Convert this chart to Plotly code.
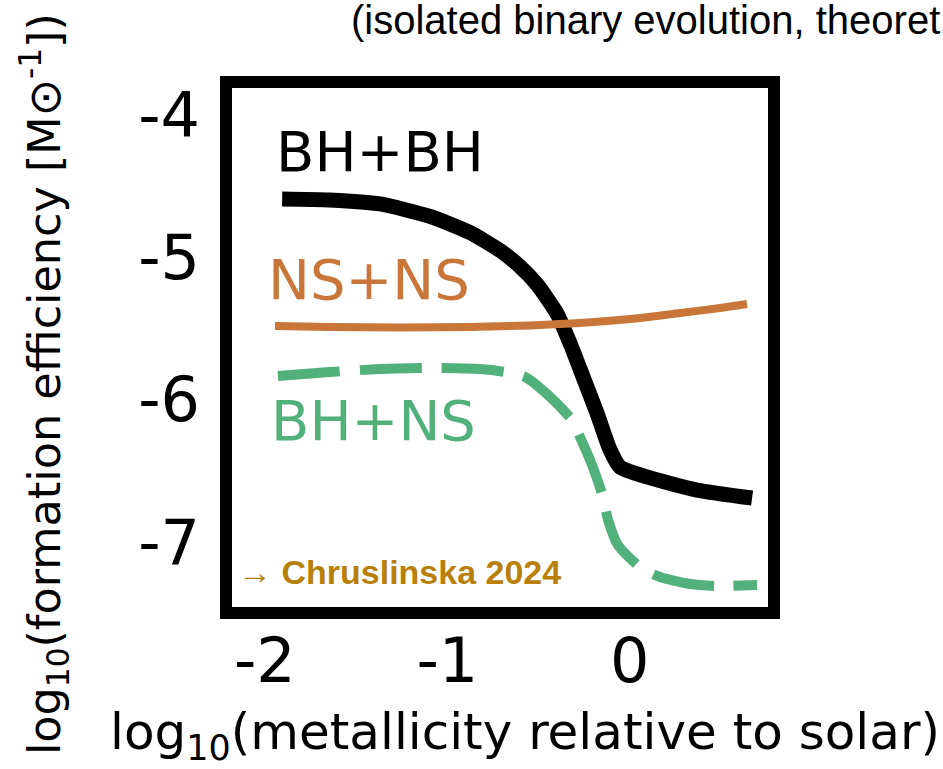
import plotly.graph_objects as go

# ---- data ----
x_tick_vals = [-2, -1, 0]
x_tick_text = ["-2", "-1", "0"]
y_tick_vals = [-4, -5, -6, -7]
y_tick_text = ["-4", "-5", "-6", "-7"]

bhbh_x = [-1.905, -1.643, -1.369, -1.095, -0.876, -0.712, -0.602, -0.508, -0.399,
          -0.328, -0.256, -0.180, -0.108, -0.054, 0.094, 0.368, 0.670]
bhbh_y = [-4.589, -4.596, -4.624, -4.712, -4.825, -4.951, -5.064, -5.191, -5.395,
          -5.602, -5.841, -6.094, -6.354, -6.474, -6.544, -6.636, -6.692]

nsns_x = [-1.944, -1.643, -1.259, -0.875, -0.547, -0.273, 0.001, 0.275, 0.494, 0.642]
nsns_y = [-5.482, -5.489, -5.493, -5.489, -5.479, -5.461, -5.433, -5.391, -5.356, -5.328]

bhns_x = [-1.928, -1.643, -1.369, -1.095, -0.821, -0.684, -0.574, -0.448, -0.317, -0.273,
          -0.207, -0.147, -0.119, -0.065, 0.056, 0.165, 0.330, 0.478, 0.697]
bhns_y = [-5.834, -5.806, -5.785, -5.778, -5.785, -5.806, -5.841, -5.968, -6.143, -6.263,
          -6.460, -6.685, -6.847, -7.023, -7.178, -7.248, -7.297, -7.311, -7.304]

series_names = ["BH+BH", "NS+NS", "BH+NS"]
title_text = "(isolated binary evolution, theoret"
x_title = "log<sub>10</sub>(metallicity relative to solar)"
y_title = "log<sub>10</sub>(formation efficiency [M⊙<sup>-1</sup>])"
ref_text = "→ <b>Chruslinska 2024</b>"

# ---- styles ----
BLACK = "#000000"
ORANGE = "#c8763a"
GREEN = "#52b07a"
GOLD = "#b97f0b"
FONT = "DejaVu Sans"

fig = go.Figure()
fig.add_trace(go.Scatter(x=bhbh_x, y=bhbh_y, mode="lines", name=series_names[0],
                         line=dict(color=BLACK, width=15, shape="spline", smoothing=0.6)))
fig.add_trace(go.Scatter(x=bhns_x, y=bhns_y, mode="lines", name=series_names[2],
                         line=dict(color=GREEN, width=10, dash="62px,20px",
                                   shape="spline", smoothing=0.6)))
fig.add_trace(go.Scatter(x=nsns_x, y=nsns_y, mode="lines", name=series_names[1],
                         line=dict(color=ORANGE, width=8, shape="spline", smoothing=0.6)))

L, R, T, B = 226, 169, 82, 156
W, H = 943, 769
pw, ph = W - L - R, H - T - B

def px(xp):
    return (xp - L) / pw

def py(yp):
    return (H - B - yp) / ph

fig.update_layout(
    width=W, height=H,
    margin=dict(l=L, r=R, t=T, b=B, pad=0),
    paper_bgcolor="white", plot_bgcolor="white",
    showlegend=False,
    xaxis=dict(range=[-2.2126, 0.790], tickvals=x_tick_vals, ticktext=x_tick_text,
               showgrid=False, zeroline=False, showline=False, ticks="",
               ticklabelstandoff=6,
               tickfont=dict(family=FONT, size=62, color=BLACK), fixedrange=True),
    yaxis=dict(range=[-7.5007, -3.7665], tickvals=y_tick_vals, ticktext=y_tick_text,
               showgrid=False, zeroline=False, showline=False, ticks="",
               ticklabelstandoff=25,
               tickfont=dict(family=FONT, size=62, color=BLACK), fixedrange=True),
    shapes=[dict(type="rect", xref="paper", yref="paper", x0=0, x1=1, y0=0, y1=1,
                 line=dict(color=BLACK, width=12), fillcolor="rgba(0,0,0,0)")],
)

ann = []
ann.append(dict(text=series_names[0], x=-1.369, y=-4.255, xref="x", yref="y",
                showarrow=False, font=dict(family=FONT, size=56, color=BLACK)))
ann.append(dict(text=series_names[1], x=-1.427, y=-5.155, xref="x", yref="y",
                showarrow=False, font=dict(family=FONT, size=56, color=ORANGE)))
ann.append(dict(text=series_names[2], x=-1.407, y=-6.150, xref="x", yref="y",
                showarrow=False, font=dict(family=FONT, size=56, color=GREEN)))
ann.append(dict(text=ref_text, x=-2.157, y=-7.212, xref="x", yref="y", xanchor="left",
                showarrow=False, font=dict(family="Liberation Sans", size=34, color=GOLD)))
ann.append(dict(text=title_text, x=px(942), y=py(20), xref="paper", yref="paper",
                xanchor="right", yanchor="middle", showarrow=False,
                font=dict(family="Liberation Sans", size=40, color=BLACK)))
ann.append(dict(text=x_title, x=px(525), y=py(735), xref="paper", yref="paper",
                xanchor="center", yanchor="middle", showarrow=False,
                font=dict(family=FONT, size=50, color=BLACK)))
ann.append(dict(text=y_title, x=px(44), y=py(384), xref="paper", yref="paper",
                xanchor="center", yanchor="middle", textangle=-90, showarrow=False,
                font=dict(family=FONT, size=44.5, color=BLACK)))
fig.update_layout(annotations=ann)

fig.write_html("out.html")
